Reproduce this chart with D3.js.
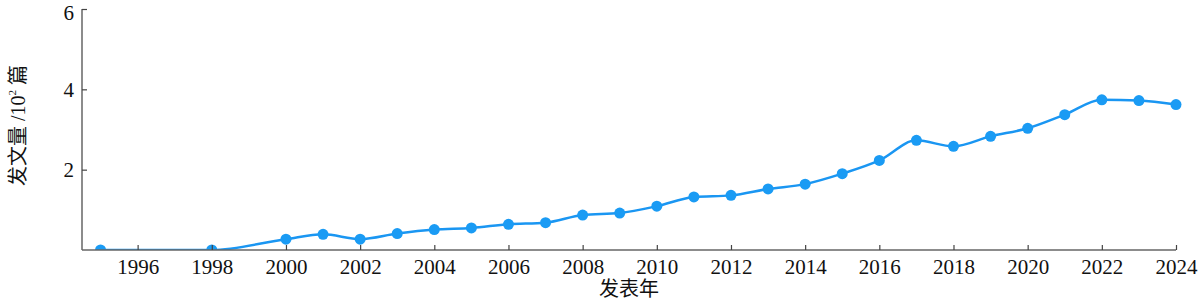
<!DOCTYPE html>
<html>
<head>
<meta charset="utf-8">
<script src="https://cdn.jsdelivr.net/npm/d3@7"></script>
<style>
  body { margin: 0; background: #fff; }
  svg text { font-family: "Liberation Serif", "Noto Sans CJK SC", serif; fill: #111; }
</style>
</head>
<body>
<div id="chart"></div>
<script>
// publication counts (hundreds of papers) by year
const years = [1995, 1998, 2000, 2001, 2002, 2003, 2004, 2005, 2006, 2007, 2008, 2009, 2010,
  2011, 2012, 2013, 2014, 2015, 2016, 2017, 2018, 2019, 2020, 2021, 2022, 2023, 2024];
const counts = [0, 0, 0.27, 0.39, 0.27, 0.41, 0.51, 0.55, 0.64, 0.68, 0.87, 0.92, 1.09,
  1.32, 1.36, 1.52, 1.64, 1.9, 2.23, 2.73, 2.58, 2.83, 3.03, 3.37, 3.74, 3.72, 3.62];
const xTicks = [1996, 1998, 2000, 2002, 2004, 2006, 2008, 2010, 2012, 2014, 2016, 2018, 2020, 2022, 2024];
const yTicks = [2, 4, 6];

const width = 1200, height = 300;
const margin = { top: 9, right: 24, bottom: 50, left: 82 };

const svg = d3.select("#chart").append("svg")
  .attr("width", width)
  .attr("height", height);

const x = d3.scaleLinear().domain([1994.5, 2024]).range([margin.left, width - margin.right]);
const y = d3.scaleLinear().domain([0, 6]).range([height - margin.bottom, margin.top]);

/* clip so markers sitting on zero only show above the axis */
svg.append("clipPath").attr("id", "plot")
  .append("rect")
  .attr("x", margin.left).attr("y", 0)
  .attr("width", width - margin.left)
  .attr("height", height - margin.bottom);

const data = years.map((yr, i) => ({ year: yr, value: counts[i] }));

const line = d3.line()
  .x(d => x(d.year))
  .y(d => y(d.value))
  .curve(d3.curveMonotoneX);

const plot = svg.append("g").attr("clip-path", "url(#plot)");

plot.append("path")
  .datum(data)
  .attr("fill", "none")
  .attr("stroke", "#1a96f2")
  .attr("stroke-width", 2.5)
  .attr("d", line);

plot.selectAll(".point")
  .data(data)
  .enter()
    .append("circle")
      .attr("class", "point")
      .attr("cx", d => x(d.year))
      .attr("cy", d => y(d.value))
      .attr("r", 5.5)
      .style("fill", "#1a9bf4");

/* axes: ticks point inward */
const xAxis = svg.append("g")
  .attr("transform", `translate(0,${y(0)})`)
  .call(d3.axisBottom(x).tickValues(xTicks).tickFormat(d3.format("d")).tickSize(-5).tickPadding(9));

const yAxis = svg.append("g")
  .attr("transform", `translate(${margin.left},0)`)
  .call(d3.axisLeft(y).tickValues(yTicks).tickFormat(d3.format("d")).tickSize(-5).tickPadding(8));

[xAxis, yAxis].forEach(g => {
  g.select(".domain").attr("stroke", "#666").attr("stroke-width", 1.5);
  g.selectAll(".tick line").attr("stroke", "#444").attr("stroke-width", 1.2);
  g.selectAll(".tick text").style("font-size", "21px").attr("fill", "#111");
});
xAxis.select(".domain").attr("d", `M${x(1994.5)},0H${x(2024)}`);
yAxis.select(".domain").attr("d", `M0,${y(6)}V${y(0)}`);
/* keep the top label inside the picture */
yAxis.selectAll(".tick text").filter(d => d === 6).attr("dy", "0.5em");

svg.append("text")
  .attr("x", (x(1994.5) + x(2024)) / 2)
  .attr("y", 296)
  .attr("text-anchor", "middle")
  .style("font-size", "20px")
  .text("发表年");

const yLabel = svg.append("text")
  .attr("transform", `translate(25,${y(3) - 4}) rotate(-90)`)
  .attr("text-anchor", "middle")
  .style("font-size", "20px");
yLabel.append("tspan").text("发文量 /10");
yLabel.append("tspan").attr("dy", -9).style("font-size", "11px").text("2");
yLabel.append("tspan").attr("dy", 9).text(" 篇");
</script>
</body>
</html>
